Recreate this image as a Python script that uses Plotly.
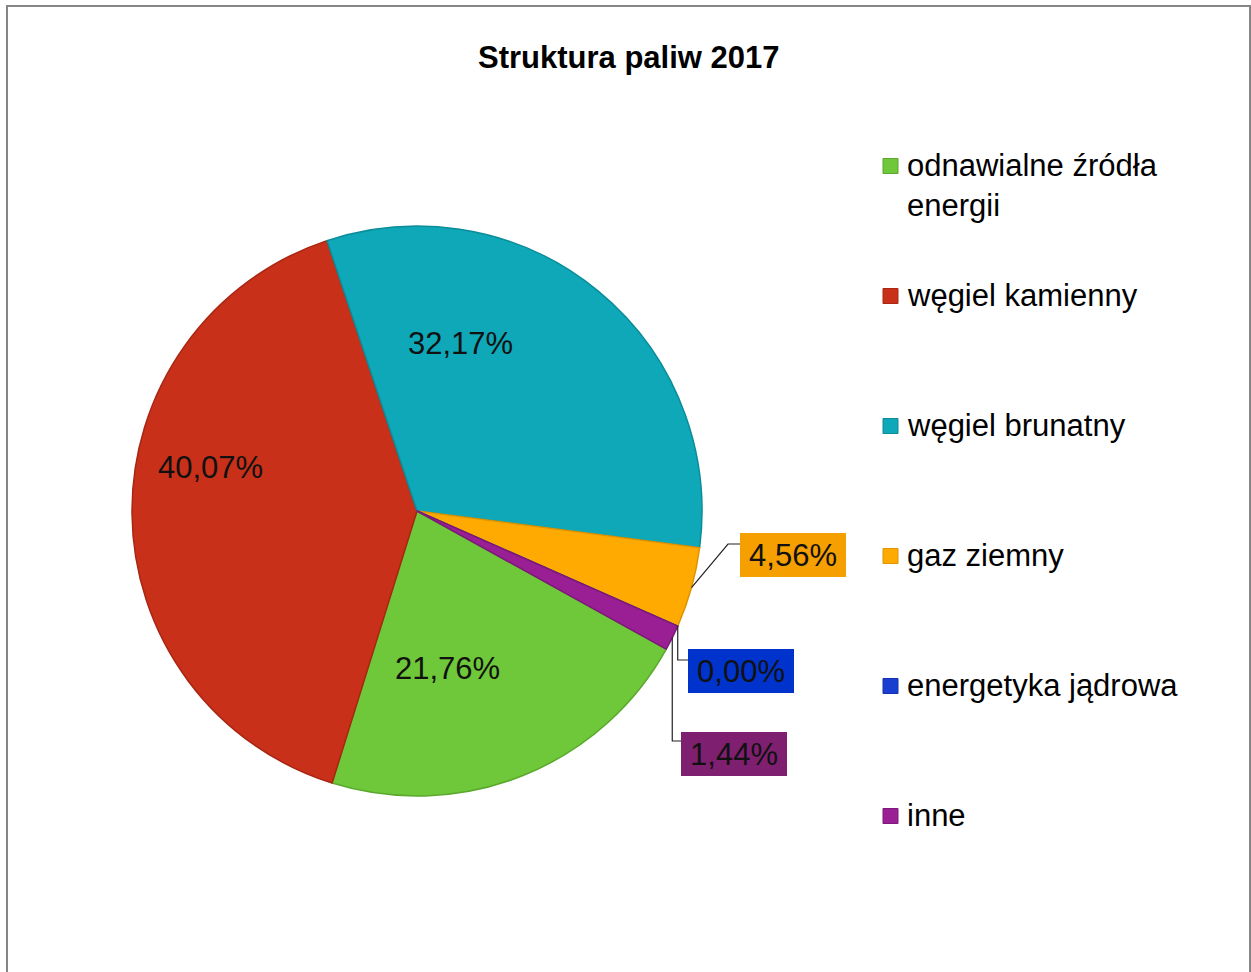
import math
import plotly.graph_objects as go

# ---- data ----
categories = ["odnawialne źródła energii", "węgiel kamienny", "węgiel brunatny",
              "gaz ziemny", "energetyka jądrowa", "inne"]
legend_labels = ["odnawialne źródła<br>energii", "węgiel kamienny", "węgiel brunatny",
                 "gaz ziemny", "energetyka jądrowa", "inne"]
shares = [21.76, 40.07, 32.17, 4.56, 0.00, 1.44]
title_text = "Struktura paliw 2017"

slice_colors = ["#6ec83a", "#c8301a", "#0fa8b8", "#ffaa00", "#1a3fd0", "#9a1f95"]
slice_edges = ["#5aa82c", "#a82612", "#0b8c99", "#dd9400", "#1432b0", "#7e1879"]
box_colors = {3: "#f5a000", 4: "#0033cc", 5: "#7f1f6f"}

W, H = 1251, 972
FONT = "Arial, Liberation Sans, sans-serif"


def px(x):
    return x / W


def py(y):
    return 1 - y / H


def fmt(v):
    return f"{v:.2f}".replace(".", ",") + "%"


# pie geometry (pixels)
cx, cy, R = 417, 511, 285
rotation = 119

fig = go.Figure()
fig.add_trace(go.Pie(
    labels=categories,
    values=shares,
    sort=False,
    direction="clockwise",
    rotation=rotation,
    marker=dict(colors=slice_colors, line=dict(color=slice_edges, width=1.5)),
    textinfo="none",
    hoverinfo="label+percent",
    showlegend=False,
    domain=dict(x=[px(cx - R), px(cx + R)], y=[py(cy + R), py(cy - R)]),
))

annotations = []
shapes = []

# title
annotations.append(dict(text=f"<b>{title_text}</b>", x=px(629), y=py(57), xref="paper", yref="paper",
                        xanchor="center", yanchor="middle", showarrow=False,
                        font=dict(family=FONT, size=31, color="#000000")))

# inside labels for the big slices
inside_pos = {0: (447, 668), 1: (210, 468), 2: (460, 343)}
for i, (x, y) in inside_pos.items():
    annotations.append(dict(text=fmt(shares[i]), x=px(x), y=py(y), xref="paper", yref="paper",
                            xanchor="center", yanchor="middle", showarrow=False,
                            font=dict(family=FONT, size=31, color="#111111")))

# edge points of small slices (computed from data)
total = sum(shares)
cum = 0
mid_angle = []
for v in shares:
    a0 = rotation + 360 * cum / total
    a1 = rotation + 360 * (cum + v) / total
    mid_angle.append((a0 + a1) / 2)
    cum += v


def edge(i):
    a = math.radians(mid_angle[i])
    return cx + R * math.sin(a), cy - R * math.cos(a)


# outside labels with boxes and leader lines
box_centers = {3: (793, 555), 4: (741, 671), 5: (734, 754)}
leaders = {
    3: lambda e: [e, (728, 544), (740, 544)],
    4: lambda e: [e, (e[0], 660), (689, 660)],
    5: lambda e: [e, (e[0], 741), (682, 741)],
}
for i, (x, y) in box_centers.items():
    annotations.append(dict(text=fmt(shares[i]), x=px(x), y=py(y), xref="paper", yref="paper",
                            xanchor="center", yanchor="middle", showarrow=False,
                            width=100, height=38, borderpad=3, borderwidth=0,
                            bgcolor=box_colors[i],
                            font=dict(family=FONT, size=31, color="#111111")))
    pts = leaders[i](edge(i))
    path = "M " + " L ".join(f"{px(a)} {py(b)}" for a, b in pts)
    shapes.append(dict(type="path", path=path, xref="paper", yref="paper",
                       line=dict(color="#222222", width=1.2)))

# custom legend
for i, lab in enumerate(legend_labels):
    yc = 166 + 130 * i
    shapes.append(dict(type="rect", xref="paper", yref="paper",
                       x0=px(883), x1=px(898), y0=py(yc + 7.5), y1=py(yc - 7.5),
                       fillcolor=slice_colors[i], line=dict(color=slice_edges[i], width=1)))
    annotations.append(dict(text=lab, x=px(905), y=py(yc - 20), xref="paper", yref="paper",
                            xanchor="left", yanchor="top", align="left", showarrow=False,
                            font=dict(family=FONT, size=31, color="#000000")))

# outer border
shapes.append(dict(type="rect", xref="paper", yref="paper",
                   x0=px(7), x1=px(1250), y0=py(990), y1=py(6),
                   line=dict(color="#868686", width=2), fillcolor="rgba(0,0,0,0)"))

fig.update_layout(
    width=W, height=H,
    margin=dict(l=0, r=0, t=0, b=0),
    paper_bgcolor="#ffffff",
    plot_bgcolor="#ffffff",
    annotations=annotations,
    shapes=shapes,
    font=dict(family=FONT),
)

fig.write_html("out.html",
               config={"displayModeBar": False},
               post_script="document.body.style.margin='0';document.body.style.overflow='hidden';")
